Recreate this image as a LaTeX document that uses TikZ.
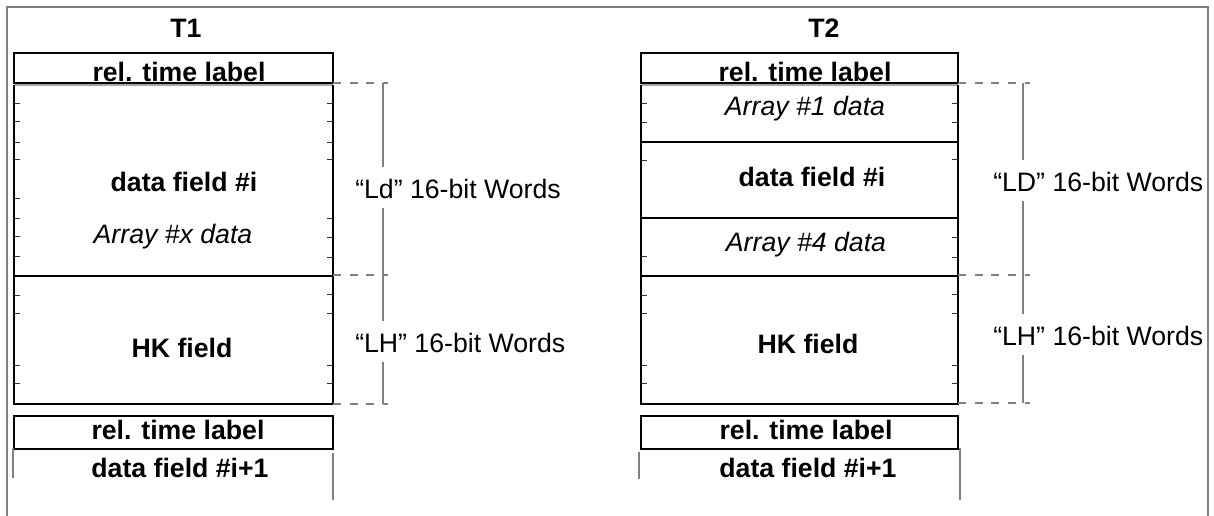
\documentclass[tikz,border=0pt]{standalone}
\usepackage{fontspec}
\setmainfont{Liberation Sans}
\begin{document}
\begin{tikzpicture}[x=0.75pt,y=-0.75pt,
  txt/.style={font=\fontsize{20}{24}\selectfont, inner sep=0pt, anchor=base},
  bold/.style={txt, font=\fontsize{20}{24}\selectfont\bfseries},
  ital/.style={txt, font=\fontsize{20}{24}\selectfont\itshape},
  side/.style={txt, anchor=base west},
  frame/.style={draw=gray, line width=1.5pt},
  box/.style={draw=black, line width=0.9pt},
  split/.style={draw=black, line width=1.4pt},
  soft/.style={draw=gray!70, line width=0.9pt},
  tick/.style={draw=black!80, line width=0.6pt},
  guide/.style={draw=gray, line width=0.9pt, dash pattern=on 6pt off 6.5pt},
  bracket/.style={draw=gray, line width=1.1pt},
  stub/.style={draw=gray, line width=0.9pt}]
\useasboundingbox (0,0) rectangle (1214,516);

% outer frame (open at the bottom)
\draw[frame] (7,516) -- (7,7) -- (1208,7) -- (1208,516);

% ---------------- column T1 ----------------
\node[bold] (t1) at (186,38) {T1};
\draw[box] (14,53) rectangle (333,83);
\draw[soft] (14,85) -- (333,85);
\draw[box] (14,85) -- (14,404) -- (333,404) -- (333,85);
\draw[split] (14,276) -- (333,276);
\foreach \y in {103,121,142,159,198,218,236,256,295,313,365,383}
  \draw[tick] (14,\y) -- ++(6,0);
\foreach \y in {103,121,142,159,218,237,257,294,313,365,383}
  \draw[tick] (333,\y) -- ++(-6,0);
\node[bold] (rt1) at (179,82) {rel. time label};
\node[bold] (df1) at (184,192) {data field \#i};
\node[ital] (ax1) at (173,244) {Array \#x data};
\node[bold] (hk1) at (182,358) {HK field};
\draw[box] (14,416) rectangle (333,449);
\node[bold] (rtb1) at (178,440) {rel. time label};
\node[bold] (dn1) at (180,478) {data field \#i+1};
\draw[stub] (13,448) -- (13,478);
\draw[stub] (333,453) -- (333,500);

% word counts of T1
\coordinate (g1a) at (333,83);
\coordinate (g1b) at (333,275);
\coordinate (g1c) at (333,404);
\coordinate (k1a) at (383,83);
\coordinate (k1c) at (383,404);
\draw[guide] (g1a) -- ++(55,0);
\draw[guide] (g1b) -- ++(55,0);
\draw[guide] (g1c) -- ++(55,0);
\node[side] (ld1) at (355,199) {“Ld” 16-bit Words};
\node[side] (lh1) at (355,353) {“LH” 16-bit Words};
\coordinate (ld1n) at ([yshift=9pt]ld1.north);
\coordinate (ld1s) at ([yshift=-6pt]ld1.south);
\coordinate (lh1n) at ([yshift=9pt]lh1.north);
\coordinate (lh1s) at ([yshift=-6pt]lh1.south);
\draw[bracket] (k1a) -- (k1a |- ld1n);
\draw[bracket] (k1a |- ld1s) -- (k1a |- lh1n);
\draw[bracket] (k1a |- lh1s) -- (k1c);

% ---------------- column T2 ----------------
\node[bold] (t2) at (824,38) {T2};
\draw[box] (641,53) rectangle (958,83);
\draw[soft] (641,85) -- (958,85);
\draw[box] (641,85) -- (641,404) -- (958,404) -- (958,85);
\draw[box] (641,142) -- (958,142);
\draw[box] (641,218) -- (958,218);
\draw[split] (641,276) -- (958,276);
\foreach \y in {103,122,160,256,295,313,365,383}
  \draw[tick] (641,\y) -- ++(6,0);
\foreach \y in {103,122,159,237,257,294,313,365,383}
  \draw[tick] (958,\y) -- ++(-6,0);
\node[bold] (rt2) at (805,82) {rel. time label};
\node[ital] (a12) at (805,116) {Array \#1 data};
\node[bold] (df2) at (812,187) {data field \#i};
\node[ital] (a42) at (806,252) {Array \#4 data};
\node[bold] (hk2) at (808,354) {HK field};
\draw[box] (641,416) rectangle (958,449);
\node[bold] (rtb2) at (806,440) {rel. time label};
\node[bold] (dn2) at (808,478) {data field \#i+1};
\draw[stub] (639,452) -- (639,479);
\draw[stub] (960,448) -- (960,500);

% word counts of T2
\coordinate (g2a) at (958,83);
\coordinate (g2b) at (958,275);
\coordinate (g2c) at (958,403);
\coordinate (k2a) at (1023,83);
\coordinate (k2c) at (1023,403);
\draw[guide] (g2a) -- ++(72,0);
\draw[guide] (g2b) -- ++(72,0);
\draw[guide] (g2c) -- ++(72,0);
\node[side] (ld2) at (993,192) {“LD” 16-bit Words};
\node[side] (lh2) at (993,346) {“LH” 16-bit Words};
\coordinate (ld2n) at ([yshift=9pt]ld2.north);
\coordinate (ld2s) at ([yshift=-6pt]ld2.south);
\coordinate (lh2n) at ([yshift=9pt]lh2.north);
\coordinate (lh2s) at ([yshift=-6pt]lh2.south);
\draw[bracket] (k2a) -- (k2a |- ld2n);
\draw[bracket] (k2a |- ld2s) -- (k2a |- lh2n);
\draw[bracket] (k2a |- lh2s) -- (k2c);
\end{tikzpicture}
\end{document}
